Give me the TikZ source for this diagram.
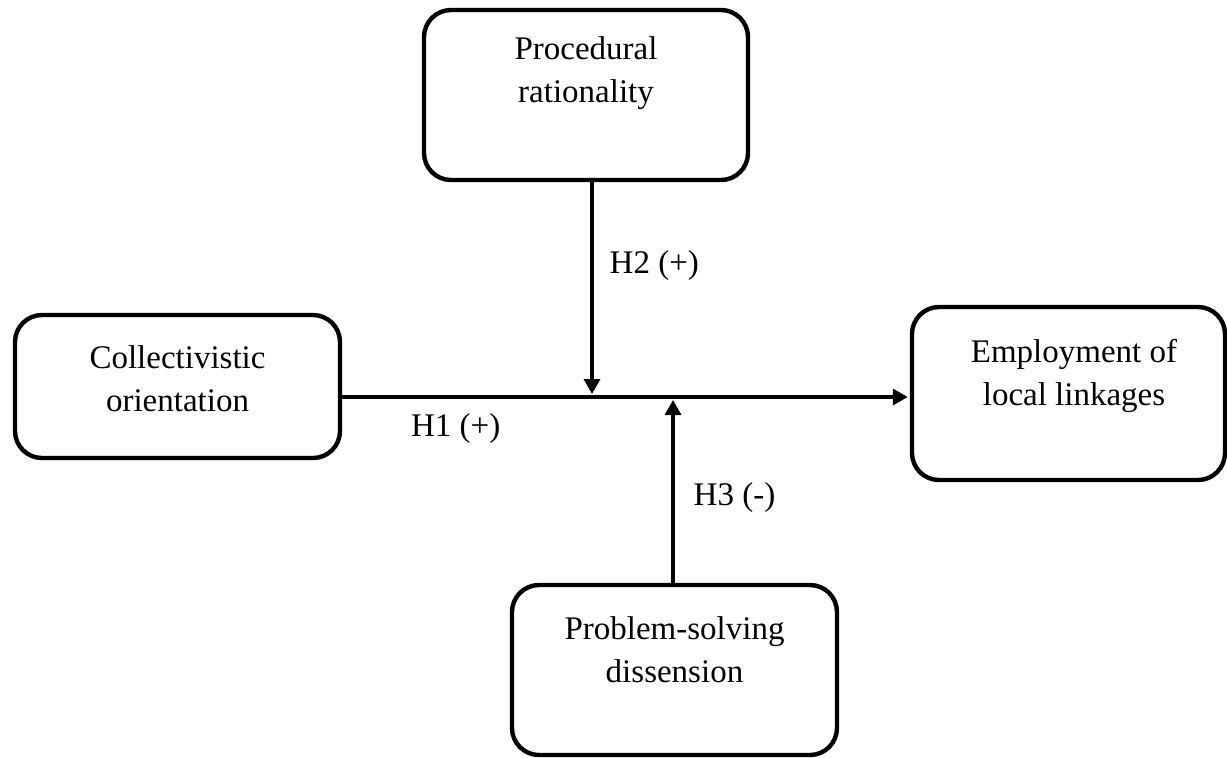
\documentclass[tikz,border=0pt]{standalone}
\usepackage{fontspec}
\setmainfont{Liberation Serif}
\usetikzlibrary{arrows.meta,positioning}
\tikzset{
  box/.style={draw,line width=2.2pt,rounded corners=13.5pt,inner sep=0pt},
  txt/.style={align=center,inner sep=0pt,font=\fontsize{16.5}{21.5}\selectfont},
  lbl/.style={inner sep=0pt,font=\fontsize{16.5}{21.5}\selectfont},
  fl/.style={-{Triangle[length=7.5pt,width=8pt]},line width=1.7pt},
}
\begin{document}
\begin{tikzpicture}[x=0.5pt,y=-0.5pt]
  \useasboundingbox (0,0) rectangle (1227,757);
  % the four constructs
  \node[box,minimum width=162pt,minimum height=85pt]   (proc) at (586,95)      {};
  \node[box,minimum width=162.5pt,minimum height=71.5pt](coll) at (177.5,386.5) {};
  \node[box,minimum width=156.5pt,minimum height=86.5pt](empl) at (1068.5,393.5){};
  \node[box,minimum width=162.5pt,minimum height=85pt] (prob) at (674.5,670)   {};
  % their texts, set high in the box
  \node[txt] (proct) at (586,73.5)    {Procedural\\rationality};
  \node[txt] (collt) at (177.5,378.5) {Collectivistic\\orientation};
  \node[txt] (emplt) at (1074,376)    {Employment of\\local linkages};
  \node[txt] (probt) at (674.5,650)   {Problem-solving\\dissension};
  % hypotheses
  \coordinate (h1s) at ([yshift=-5.25pt]coll.east);
  \coordinate (h2s) at ([xshift=3pt]proc.south);
  \coordinate (h3s) at ([xshift=-0.75pt]prob.north);
  \draw[fl,shorten >=1pt] (h1s) -- node[lbl,pos=0.2,below=7.5pt]{H1 (+)} (h1s -| empl.west);
  \draw[fl,shorten >=1.5pt] (h2s) -- node[lbl,pos=0.39,right=8pt]{H2 (+)} (h2s |- h1s);
  \draw[fl,shorten >=1.5pt] (h3s) -- node[lbl,pos=0.46,right=9.5pt]{H3 (-)} (h3s |- h1s);
\end{tikzpicture}
\end{document}
